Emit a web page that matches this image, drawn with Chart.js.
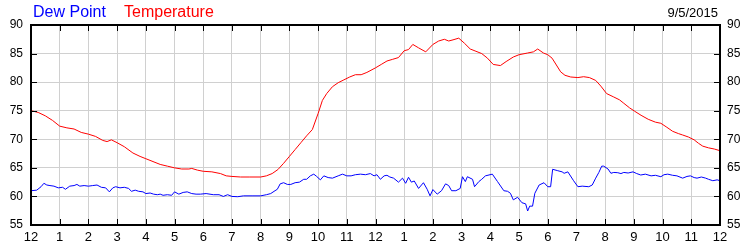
<!DOCTYPE html>
<html>
<head>
<meta charset="utf-8">
<script src="https://cdn.jsdelivr.net/npm/chart.js@4/dist/chart.umd.min.js"></script>
<style>
  html, body { margin: 0; padding: 0; background: #fff; }
  #wrap { width: 750px; height: 250px; position: relative; }
</style>
</head>
<body>
<div id="wrap"><canvas id="c" width="750" height="250"></canvas></div>
<script>
// Hour labels for x ticks (0..24 hours)
const hourLabels = ['12','1','2','3','4','5','6','7','8','9','10','11','12','1','2','3','4','5','6','7','8','9','10','11','12'];
const yTicks = [55, 60, 65, 70, 75, 80, 85, 90];
const dateLabel = '9/5/2015';
const seriesNames = ['Dew Point', 'Temperature'];

// Temperature (°F) vs hours since midnight
const tempHours = [0,0.25,0.5,0.75,1.0,1.25,1.5,1.75,2.0,2.25,2.5,2.65,2.8,3.0,3.25,3.55,3.8,4.0,4.25,4.5,4.75,5.0,5.25,5.5,5.6,5.8,6.0,6.3,6.6,6.8,7.0,7.3,7.6,8.0,8.2,8.4,8.6,8.8,9.0,9.2,9.4,9.6,9.8,10.0,10.15,10.3,10.5,10.7,10.9,11.1,11.3,11.5,11.7,12.0,12.2,12.4,12.6,12.8,13.0,13.15,13.3,13.5,13.75,14.0,14.2,14.4,14.55,14.7,14.9,15.1,15.3,15.5,15.7,15.9,16.1,16.35,16.55,16.8,17.0,17.3,17.5,17.65,17.85,18.0,18.15,18.3,18.45,18.6,18.8,19.05,19.25,19.45,19.67,19.85,20.05,20.3,20.5,20.65,20.85,21.03,21.25,21.5,21.75,21.94,22.15,22.35,22.55,22.7,22.9,23.1,23.25,23.4,23.6,23.8,24.0];
const tempValues = [75.0,74.7,74.1,73.3,72.3,72.0,71.8,71.2,70.9,70.5,69.8,69.6,69.9,69.4,68.7,67.6,67.0,66.6,66.1,65.6,65.3,65.0,64.8,64.8,64.9,64.6,64.4,64.3,64.0,63.6,63.5,63.4,63.4,63.4,63.6,64.0,64.7,65.8,67.0,68.2,69.4,70.6,71.7,74.5,76.8,78.0,79.2,79.9,80.4,80.9,81.3,81.3,81.7,82.5,83.1,83.7,84.0,84.3,85.5,85.7,86.6,86.0,85.3,86.6,87.2,87.5,87.2,87.4,87.7,86.8,85.8,85.4,85.0,84.2,83.1,82.9,83.6,84.4,84.8,85.1,85.3,85.8,85.1,84.8,84.2,83.0,81.8,81.2,80.9,80.8,80.95,80.8,80.3,79.3,78.0,77.4,76.9,76.3,75.5,74.9,74.2,73.5,73.0,72.8,72.1,71.4,71.0,70.75,70.4,69.9,69.3,68.8,68.5,68.3,68.0];

// Dew point (°F) vs hours since midnight
const dewHours = [0,0.2,0.35,0.45,0.55,0.66,0.8,0.95,1.1,1.2,1.35,1.5,1.6,1.7,1.85,2.0,2.15,2.3,2.45,2.6,2.73,2.85,2.95,3.1,3.25,3.4,3.5,3.63,3.75,3.9,4.0,4.15,4.27,4.4,4.5,4.6,4.75,4.9,5.0,5.15,5.3,5.44,5.6,5.75,5.9,6.1,6.35,6.55,6.7,6.85,7.0,7.2,7.4,7.7,8.0,8.2,8.35,8.5,8.58,8.68,8.8,8.93,9.05,9.2,9.35,9.5,9.6,9.73,9.85,9.95,10.08,10.2,10.35,10.5,10.7,10.85,11.0,11.15,11.3,11.48,11.65,11.82,11.95,12.05,12.17,12.3,12.4,12.5,12.63,12.8,12.94,13.05,13.15,13.25,13.35,13.5,13.67,13.8,13.9,14.0,14.15,14.3,14.44,14.55,14.65,14.8,14.95,15.03,15.13,15.2,15.38,15.45,15.6,15.7,15.83,16.07,16.25,16.47,16.6,16.7,16.8,16.95,17.1,17.23,17.3,17.37,17.47,17.55,17.7,17.87,18.0,18.1,18.17,18.35,18.5,18.57,18.7,18.9,19.05,19.2,19.43,19.55,19.67,19.78,19.88,19.95,20.1,20.2,20.3,20.44,20.55,20.65,20.8,20.97,21.1,21.24,21.4,21.6,21.75,21.94,22.05,22.18,22.35,22.5,22.7,22.85,22.97,23.1,23.2,23.35,23.5,23.6,23.75,23.9,24.0];
const dewValues = [61.0,61.1,61.7,62.3,62.0,61.9,61.8,61.5,61.6,61.25,61.8,61.9,62.1,61.8,61.9,61.8,61.9,62.0,61.6,61.5,60.8,61.5,61.7,61.5,61.6,61.4,60.9,61.1,60.9,60.8,60.5,60.6,60.4,60.3,60.4,60.2,60.3,60.2,60.8,60.4,60.7,60.8,60.5,60.4,60.4,60.5,60.3,60.3,60.0,60.3,60.0,59.95,60.1,60.1,60.1,60.3,60.5,61.0,61.25,62.2,62.4,62.1,62.1,62.4,62.5,63.0,63.0,63.6,63.9,63.5,62.9,63.6,63.3,63.2,63.6,63.9,63.6,63.6,63.8,63.9,63.8,64.0,63.6,63.8,63.0,63.6,63.7,63.4,63.2,62.5,63.2,62.3,63.35,62.5,62.7,61.4,62.4,61.25,60.1,61.2,60.4,61.0,62.2,61.9,61.0,61.0,61.4,63.45,62.6,63.45,63.0,61.7,62.6,63.0,63.6,63.9,62.6,61.0,60.9,60.55,59.4,59.85,58.9,58.7,57.45,58.3,58.3,60.55,62.0,62.4,61.7,61.7,64.75,64.5,64.3,64.05,64.3,62.75,61.7,61.8,61.7,62.0,63.2,64.2,65.3,65.3,64.8,64.05,64.2,64.15,64.0,64.2,64.1,64.3,64.0,63.75,63.9,63.6,63.7,63.45,63.8,63.9,63.7,63.6,63.2,63.5,63.6,63.3,63.2,63.4,63.2,63.0,62.75,62.9,62.75];

const FONT = '"Liberation Sans", Arial, sans-serif';
const GRID = '#d0d0d0';

const tempData = tempHours.map((h, i) => ({ x: h, y: tempValues[i] }));
const dewData = dewHours.map((h, i) => ({ x: h, y: dewValues[i] }));

const framePlugin = {
  id: 'frame',
  afterDatasetsDraw(chart) {
    const { ctx, chartArea: a, scales } = chart;
    const x = scales.x, y = scales.y;
    ctx.save();
    ctx.strokeStyle = '#000';
    ctx.lineWidth = 1;
    ctx.beginPath();
    x.ticks.forEach(t => {
      const px = Math.round(x.getPixelForValue(t.value)) + 0.5;
      ctx.moveTo(px, a.top); ctx.lineTo(px, a.top + 6);
      ctx.moveTo(px, a.bottom); ctx.lineTo(px, a.bottom - 6);
    });
    y.ticks.forEach(t => {
      const py = Math.round(y.getPixelForValue(t.value)) + 0.5;
      ctx.moveTo(a.left, py); ctx.lineTo(a.left + 6, py);
      ctx.moveTo(a.right, py); ctx.lineTo(a.right - 6, py);
    });
    ctx.stroke();
    ctx.lineWidth = 2;
    ctx.strokeRect(a.left, a.top, a.right - a.left, a.bottom - a.top);
    ctx.restore();
  },
  afterDraw(chart) {
    const ctx = chart.ctx;
    ctx.save();
    ctx.textBaseline = 'alphabetic';
    ctx.font = '16px ' + FONT;
    ctx.textAlign = 'left';
    ctx.fillStyle = '#0000ff';
    ctx.fillText(seriesNames[0], 33, 17);
    ctx.fillStyle = '#ff0000';
    ctx.fillText(seriesNames[1], 124, 17);
    ctx.font = '13px ' + FONT;
    ctx.fillStyle = '#000';
    ctx.textAlign = 'right';
    ctx.fillText(dateLabel, 718, 17);
    ctx.restore();
  }
};

const yTickCfg = {
  stepSize: 5,
  color: '#000',
  font: { family: FONT, size: 12 },
  callback: (v) => yTicks.includes(v) ? String(v) : ''
};

new Chart(document.getElementById('c'), {
  type: 'line',
  data: {
    datasets: [
      { label: seriesNames[1], data: tempData, borderColor: '#ff0000', borderWidth: 1, pointRadius: 0, tension: 0, fill: false, yAxisID: 'y' },
      { label: seriesNames[0], data: dewData, borderColor: '#0000ff', borderWidth: 1, pointRadius: 0, tension: 0, fill: false, yAxisID: 'y' }
    ]
  },
  options: {
    responsive: false,
    animation: false,
    events: [],
    layout: { padding: { top: 25, left: 0, right: 0, bottom: 0 } },
    plugins: { legend: { display: false }, tooltip: { enabled: false }, title: { display: false } },
    scales: {
      x: {
        type: 'linear', min: 0, max: 24,
        ticks: {
          stepSize: 1, autoSkip: false, maxRotation: 0, color: '#000', padding: 5,
          font: { family: FONT, size: 13 },
          callback: (v) => hourLabels[Math.round(v)]
        },
        grid: { color: GRID, drawTicks: false, lineWidth: 1 },
        border: { display: false },
        afterFit(s) { s.height = 25; }
      },
      y: {
        min: 55, max: 90, position: 'left',
        ticks: Object.assign({ padding: 8 }, yTickCfg),
        grid: { color: GRID, drawTicks: false, lineWidth: 1 },
        border: { display: false },
        afterFit(s) { s.width = 31; }
      },
      y2: {
        min: 55, max: 90, position: 'right',
        ticks: Object.assign({ padding: 7 }, yTickCfg),
        grid: { display: false, drawTicks: false },
        border: { display: false },
        afterFit(s) { s.width = 30; }
      }
    }
  },
  plugins: [framePlugin]
});
</script>
</body>
</html>
